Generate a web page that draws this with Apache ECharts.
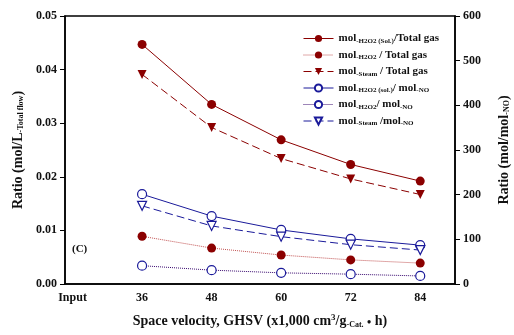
<!DOCTYPE html>
<html>
<head>
<meta charset="utf-8">
<script src="https://cdn.jsdelivr.net/npm/echarts@6/dist/echarts.min.js"></script>
<style>
  html, body { margin: 0; padding: 0; background: #fff; }
  #chart { width: 514px; height: 335px; }
</style>
</head>
<body>
<div id="chart"></div>
<script>
// space velocity, x1,000 cm3/g.h ("Input" sits at 24)
const ghsv = [36, 48, 60, 72, 84]
const xTicks = [24, 36, 48, 60, 72, 84]

// left axis: mol / total gas
const h2o2SolGas = [0.0447, 0.0335, 0.0269, 0.0223, 0.0192]
const h2o2Gas = [0.0089, 0.0067, 0.0054, 0.0045, 0.0039]
const steamGas = [0.0391, 0.0292, 0.0234, 0.0196, 0.0167]

// right axis: mol / mol NO
const h2o2SolNo = [201, 152, 121, 101, 87]
const h2o2No = [41, 31, 25, 22, 18]
const steamNo = [175, 130, 106, 88, 76]

const legendLabels = [
  'mol{sub|-H2O2 (Sol.)}/Total gas',
  'mol{sub|-H2O2} / Total gas',
  'mol{sub|-Steam} / Total gas',
  'mol{sub|-H2O2 (sol.)}/ mol{sub|-NO}',
  'mol{sub|-H2O2}/ mol{sub|-NO}',
  'mol{sub|-Steam} /mol{sub|-NO}',
]
const seriesNames = ['s1', 's2', 's3', 's4', 's5', 's6']

const RED = '#8b0000'
const BLUE = '#1a1a9a'
const FONT = '"Liberation Serif", "DejaVu Serif", serif'

const pairs = (ys) => ghsv.map((x, i) => [x, ys[i]])

const subStyle = (size, pad) => ({
  fontSize: size, fontWeight: 'bold', fontFamily: FONT, color: '#111',
  verticalAlign: 'bottom', padding: [pad, 0, 0, 0],
})

const chart = echarts.init(document.getElementById('chart'))

const mkSeries = (name, data, yIdx, color, lineType, symbol, filled, lineColor) => ({
  name,
  type: 'line',
  yAxisIndex: yIdx,
  data: pairs(data),
  symbol,
  symbolSize: 9,
  symbolRotate: symbol === 'triangle' ? 180 : 0,
  showSymbol: true,
  animation: false,
  lineStyle: { color: lineColor || color, width: 1, type: lineType },
  itemStyle: {
    color: filled ? color : '#fff',
    borderColor: color,
    borderWidth: filled ? 0 : 1.2,
  },
})

chart.setOption({
  animation: false,
  textStyle: { fontFamily: FONT },
  grid: {
    left: 65, right: 59, top: 16, bottom: 51,
    outerBoundsMode: 'none',
    show: true, borderColor: '#000', borderWidth: 1.5,
  },
  legend: {
    orient: 'vertical',
    left: 298,
    top: 28,
    itemWidth: 30,
    itemHeight: 9,
    itemGap: 5,
    data: seriesNames,
    lineStyle: { width: 1 },
    formatter: (n) => legendLabels[seriesNames.indexOf(n)],
    textStyle: {
      fontFamily: FONT,
      fontWeight: 'bold',
      fontSize: 11,
      color: '#111',
      rich: { sub: subStyle(7, 5) },
    },
  },
  xAxis: {
    type: 'value',
    min: 22.7,
    max: 90,
    splitLine: { show: false },
    axisLine: { onZero: false, lineStyle: { color: '#000', width: 1.5 } },
    axisTick: { show: false },
    axisLabel: {
      customValues: xTicks,
      formatter: (v) => (v === 24 ? 'Input' : String(v)),
      color: '#111',
      fontWeight: 'bold',
      fontSize: 12,
      fontFamily: FONT,
      margin: 8,
    },
    name: 'Space velocity, GHSV (x1,000 cm{sup|3}/g{sub|-Cat.} {dot|•} h)',
    nameLocation: 'middle',
    nameGap: 29,
    nameTextStyle: {
      color: '#111',
      fontWeight: 'bold',
      fontSize: 14,
      fontFamily: FONT,
      rich: {
        sub: subStyle(8, 6),
        sup: { fontSize: 9, fontWeight: 'bold', fontFamily: FONT, color: '#111', verticalAlign: 'top', padding: [0, 0, 4, 0] },
        dot: { fontSize: 12, fontWeight: 'bold', fontFamily: FONT, color: '#111', verticalAlign: 'bottom', padding: [4, 0, 0, 0] },
      },
    },
  },
  yAxis: [
    {
      type: 'value',
      min: 0,
      max: 0.05,
      interval: 0.01,
      position: 'left',
      splitLine: { show: false },
      axisLine: { show: true, lineStyle: { color: '#000', width: 1.5 } },
      axisTick: { show: true, inside: false, length: 5, lineStyle: { color: '#000' } },
      axisLabel: { formatter: (v) => v.toFixed(2), color: '#111', fontWeight: 'bold', fontSize: 12, fontFamily: FONT, margin: 8 },
      name: 'Ratio (mol/L{sub|-Total flow})',
      nameLocation: 'middle',
      nameRotate: 90,
      nameGap: 40,
      nameTextStyle: {
        color: '#111',
        fontWeight: 'bold',
        fontSize: 14,
        fontFamily: FONT,
        rich: { sub: subStyle(8, 6) },
      },
    },
    {
      type: 'value',
      min: 0,
      max: 600,
      interval: 100,
      position: 'right',
      splitLine: { show: false },
      axisLine: { show: true, lineStyle: { color: '#000', width: 1.5 } },
      axisTick: { show: true, inside: false, length: 5, lineStyle: { color: '#000' } },
      axisLabel: { color: '#111', fontWeight: 'bold', fontSize: 12, fontFamily: FONT, margin: 8 },
      name: 'Ratio (mol/mol{sub|-NO})',
      nameLocation: 'middle',
      nameRotate: 90,
      nameGap: 42,
      nameTextStyle: {
        color: '#111',
        fontWeight: 'bold',
        fontSize: 14,
        fontFamily: FONT,
        rich: { sub: subStyle(8, 6) },
      },
    },
  ],
  graphic: [
    {
      type: 'text',
      left: 72,
      top: 244,
      style: { text: '(C)', fontFamily: FONT, fontWeight: 'bold', fontSize: 11, fill: '#111' },
    },
  ],
  series: [
    mkSeries('s1', h2o2SolGas, 0, RED, 'solid', 'circle', true),
    mkSeries('s2', h2o2Gas, 0, RED, 'dotted', 'circle', true, '#c05050'),
    mkSeries('s3', steamGas, 0, RED, [8, 4], 'triangle', true),
    mkSeries('s4', h2o2SolNo, 1, BLUE, 'solid', 'circle', false),
    mkSeries('s5', h2o2No, 1, BLUE, 'dotted', 'circle', false, '#3a0a70'),
    mkSeries('s6', steamNo, 1, BLUE, [8, 4], 'triangle', false),
  ],
})
</script>
</body>
</html>
